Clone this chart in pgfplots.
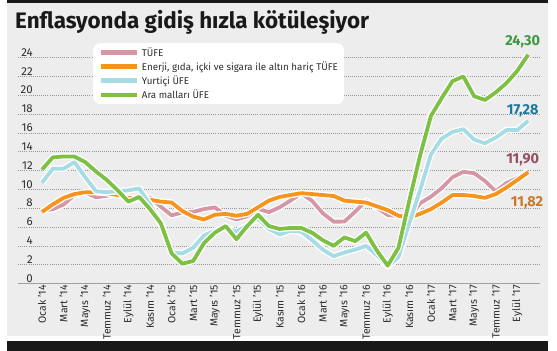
\documentclass[border=0pt]{standalone}
\usepackage{fontspec}
\setmainfont{Fira Sans}
\usepackage{pgfplots}
\usepackage{pgfplotstable}
\pgfplotsset{compat=1.18}
\definecolor{bg}{RGB}{237,237,238}
\definecolor{axisgray}{RGB}{160,160,160}
\definecolor{gridgray}{RGB}{150,150,150}
\definecolor{ticktext}{RGB}{45,45,45}
\definecolor{cpink}{RGB}{214,150,166}
\definecolor{corange}{RGB}{247,148,29}
\definecolor{ccyan}{RGB}{166,220,228}
\definecolor{cgreen}{RGB}{125,192,67}
\definecolor{tgreen}{RGB}{62,152,62}
\definecolor{tblue}{RGB}{28,120,160}
\definecolor{tpink}{RGB}{150,80,95}
\definecolor{torange}{RGB}{200,120,40}
\pgfplotstableread{
idx tufe core ufe ara
0 7.75 7.6 10.7 12.1
1 7.89 8.4 12.2 13.4
2 8.39 9.1 12.2 13.5
3 9.38 9.5 12.9 13.5
4 9.66 9.7 11.3 12.9
5 9.16 9.7 9.8 11.9
6 9.32 9.6 9.7 11.0
7 9.54 9.4 9.8 9.9
8 8.86 9.1 9.9 8.7
9 8.96 9.0 10.1 9.2
10 9.15 8.9 8.4 7.9
11 8.17 8.7 6.4 6.4
12 7.24 8.6 3.3 3.2
13 7.55 7.7 3.2 2.1
14 7.61 7.1 3.8 2.4
15 7.91 6.8 5.1 4.3
16 8.09 7.3 5.6 5.4
17 7.20 7.4 5.9 6.1
18 6.81 7.2 5.5 4.7
19 7.14 7.4 6.2 6.1
20 7.95 8.1 6.9 7.3
21 7.58 8.8 5.8 6.1
22 8.10 9.2 5.2 5.8
23 8.81 9.4 5.6 5.9
24 9.58 9.6 5.5 5.9
25 8.78 9.5 4.6 5.4
26 7.46 9.4 3.6 4.6
27 6.57 9.3 2.9 4.0
28 6.58 8.8 3.3 4.9
29 7.64 8.7 3.6 4.5
30 8.79 8.6 4.0 5.4
31 8.05 8.2 3.0 3.5
32 7.28 7.8 1.8 1.9
33 7.16 7.2 2.8 3.8
34 7.00 7.0 6.4 8.8
35 8.53 7.4 9.9 13.6
36 9.22 7.9 13.7 17.8
37 10.13 8.6 15.4 19.7
38 11.29 9.4 16.1 21.5
39 11.87 9.4 16.4 22.0
40 11.72 9.3 15.3 19.9
41 10.90 9.1 14.9 19.5
42 9.79 9.5 15.5 20.3
43 10.68 10.2 16.3 21.3
44 11.20 11.0 16.3 22.6
45 11.90 11.82 17.28 24.30
}\datatable
\begin{document}
\begin{tikzpicture}
\useasboundingbox (0bp,0bp) rectangle (557bp,351bp);
\fill[white] (0bp,0bp) rectangle (557bp,351bp);
\fill[bg] (7bp,15bp) rectangle (548bp,348bp);
\fill[black!90] (7bp,348bp) rectangle (548bp,351bp);
\fill[black!90] (7bp,0bp) rectangle (548bp,10bp);
\node[anchor=base west, inner sep=0pt, text=black!90] at (15bp,322bp) {\fontsize{22.5}{25}\selectfont\bfseries Enflasyonda gidiş hızla kötüleşiyor};
\begin{axis}[
  at={(18bp,67.5bp)}, anchor=south west,
  scale only axis, width=522bp, height=244.7bp,
  xmin=-2.22, xmax=46.1, ymin=0, ymax=26,
  axis x line*=bottom, axis y line*=left,
  x axis line style={draw=axisgray, line width=1.3bp, -},
  y axis line style={draw=none},
  ytick={0,2,...,24},
  xtick={0,2,...,44},
  xticklabels={Ocak '14,Mart '14,Mayıs '14,Temmuz '14,Eylül '14,Kasım '14,Ocak '15,Mart '15,Mayıs '15,Temmuz '15,Eylül '15,Kasım '15,Ocak '16,Mart '16,Mayıs '16,Temmuz '16,Eylül '16,Kasım '16,Ocak '17,Mart '17,Mayıs '17,Temmuz '17,Eylül '17},
  major tick length=0pt,
  ymajorgrids,
  grid style={draw=gridgray, line width=0.7bp, dash pattern=on 0.7bp off 1.4bp},
  /pgf/number format/assume math mode=true,
  yticklabel style={font=\fontsize{11.5}{12}\selectfont, text=ticktext, anchor=south east, xshift=15bp, yshift=1bp, inner sep=0pt},
  xticklabel style={font=\fontsize{10.5}{11}\selectfont, text=ticktext, rotate=90, anchor=east, inner sep=1.5bp},
  clip=false,
  legend cell align=left,
  legend style={at={(axis description cs:0.1437,0.983)}, anchor=north west,
    fill=white, draw=none, rounded corners=7bp,
    font=\fontsize{9.8}{11}\selectfont, text=ticktext,
    inner xsep=5bp, inner ysep=3bp, row sep=1.5bp,
    nodes={inner sep=1.2bp}},
  legend image code/.code={\draw[#1, line width=4.5bp] (0bp,0bp) -- (36bp,0bp);},
]
\addplot[draw=cpink, line width=3.8bp, line join=round, preaction={draw=white, line width=6.5bp}] table[x=idx,y=tufe]{\datatable};
\addlegendentry{TÜFE}
\addplot[draw=corange, line width=3.8bp, line join=round, preaction={draw=white, line width=6.5bp}] table[x=idx,y=core]{\datatable};
\addlegendentry{Enerji, gıda, içki ve sigara ile altın hariç TÜFE}
\addplot[draw=ccyan, line width=3.8bp, line join=round, preaction={draw=white, line width=6.5bp}] table[x=idx,y=ufe]{\datatable};
\addlegendentry{Yurtiçi ÜFE}
\addplot[draw=cgreen, line width=3.8bp, line join=round, preaction={draw=white, line width=6.5bp}] table[x=idx,y=ara]{\datatable};
\addlegendentry{Ara malları ÜFE}
\node[font=\fontsize{14.5}{15}\selectfont\bfseries, text=tgreen] at (axis cs:44.5,25.7) {24,30};
\node[font=\fontsize{14.5}{15}\selectfont\bfseries, text=tblue] at (axis cs:44.5,18.4) {17,28};
\node[font=\fontsize{14.5}{15}\selectfont\bfseries, text=tpink] at (axis cs:44.5,13.1) {11,90};
\node[font=\fontsize{14.5}{15}\selectfont\bfseries, text=torange] at (axis cs:44.9,8.55) {11,82};
\end{axis}
\end{tikzpicture}
\end{document}
